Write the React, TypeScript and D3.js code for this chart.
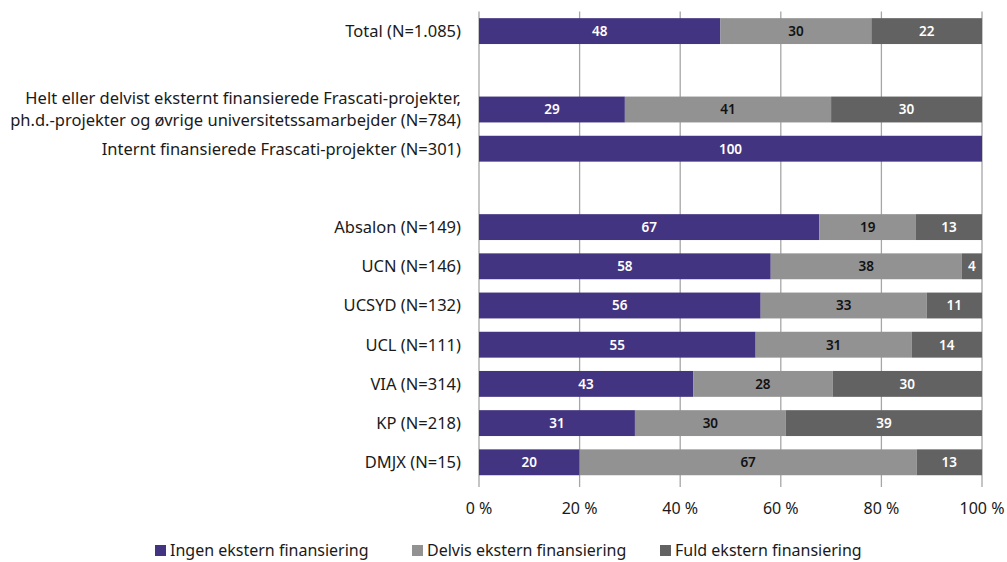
import React, { useRef, useEffect } from "react";
import * as d3 from "d3";

// rows, top to bottom (empty strings are spacer rows)
const categories = [
  "Total (N=1.085)",
  "",
  "Helt eller delvist eksternt finansierede Frascati-projekter,\nph.d.-projekter og øvrige universitetssamarbejder (N=784)",
  "Internt finansierede Frascati-projekter (N=301)",
  " ",
  "Absalon (N=149)",
  "UCN (N=146)",
  "UCSYD (N=132)",
  "UCL (N=111)",
  "VIA (N=314)",
  "KP (N=218)",
  "DMJX (N=15)",
];

const seriesNames = [
  "Ingen ekstern finansiering",
  "Delvis ekstern finansiering",
  "Fuld ekstern finansiering",
];

const ingen = [48, null, 29, 100, null, 67, 58, 56, 55, 43, 31, 20];
const delvis = [30, null, 41, 0, null, 19, 38, 33, 31, 28, 30, 67];
const fuld = [22, null, 30, 0, null, 13, 4, 11, 14, 30, 39, 13];

const xTicks = [0, 0.2, 0.4, 0.6, 0.8, 1];

const colors = ["#433481", "#929292", "#626262"];
const labelColors = ["#ffffff", "#111111", "#ffffff"];

const width = 1007;
const height = 562;
const margin = { top: 11.5, right: 25, bottom: 80, left: 479 };
const font = "'Noto Sans', sans-serif";

const App: React.FC = () => {
  const svgRef = useRef<SVGSVGElement | null>(null);

  useEffect(() => {
    if (!svgRef.current) return;
    const svg = d3.select(svgRef.current);
    svg.selectAll("*").remove();

    const rows = categories.map((c, i) => ({
      key: c,
      ingen: ingen[i],
      delvis: delvis[i],
      fuld: fuld[i],
    }));
    const dataRows = rows.filter((r) => r.ingen !== null);

    const x = d3
      .scaleLinear()
      .domain([0, 1])
      .range([margin.left, margin.left + 503]);

    const y = d3
      .scaleBand<string>()
      .domain(categories)
      .range([margin.top, margin.top + 12 * 39.2])
      .paddingInner(0.34)
      .paddingOuter(0.17);

    const stack = d3
      .stack<any>()
      .keys(["ingen", "delvis", "fuld"])
      .offset(d3.stackOffsetExpand);
    const stacked = stack(dataRows);

    const y0 = margin.top;
    const y1 = margin.top + 12 * 39.2;

    // grid
    svg
      .append("g")
      .selectAll("line")
      .data(xTicks)
      .join("line")
      .attr("x1", (d) => x(d))
      .attr("x2", (d) => x(d))
      .attr("y1", y0)
      .attr("y2", y1 + 5)
      .attr("stroke", "#a6a6a6")
      .attr("stroke-width", 1.3);

    // bars
    stacked.forEach((s, si) => {
      const g = svg.append("g");
      g.selectAll("rect")
        .data(s.filter((d) => d[1] - d[0] > 0))
        .join("rect")
        .attr("x", (d) => x(d[0]))
        .attr("width", (d) => x(d[1]) - x(d[0]))
        .attr("y", (d) => y(d.data.key)!)
        .attr("height", y.bandwidth())
        .attr("fill", colors[si]);
      g.selectAll("text")
        .data(s.filter((d) => d[1] - d[0] > 0))
        .join("text")
        .attr("x", (d) => (x(d[0]) + x(d[1])) / 2)
        .attr("y", (d) => y(d.data.key)! + y.bandwidth() / 2)
        .attr("dy", "0.36em")
        .attr("text-anchor", "middle")
        .attr("font-family", font)
        .attr("font-size", 13.5)
        .attr("font-weight", 600)
        .attr("fill", labelColors[si])
        .text((d) => d.data[s.key]);
    });

    // category labels
    const lab = svg
      .append("g")
      .selectAll("text")
      .data(categories.filter((c) => c.trim() !== ""))
      .join("text")
      .attr("text-anchor", "end")
      .attr("font-family", font)
      .attr("font-size", 16.5)
      .attr("fill", "#1a1a1a");
    lab.each(function (d) {
      const lines = d.split("\n");
      const cy = y(d)! + y.bandwidth() / 2;
      const t = d3.select(this);
      lines.forEach((l, i) => {
        t.append("tspan")
          .attr("x", margin.left - 18)
          .attr("y", cy + (i - (lines.length - 1) / 2) * 22)
          .attr("dy", "0.36em")
          .text(l);
      });
    });

    // x tick labels
    svg
      .append("g")
      .selectAll("text")
      .data(xTicks)
      .join("text")
      .attr("x", (d) => x(d))
      .attr("y", 508)
      .attr("dy", "0.36em")
      .attr("text-anchor", "middle")
      .attr("font-family", font)
      .attr("font-size", 16)
      .attr("fill", "#1a1a1a")
      .text((d) => `${Math.round(d * 100)} %`);

    // legend
    const legendX = [155, 412, 660];
    const lg = svg
      .append("g")
      .selectAll("g")
      .data(seriesNames)
      .join("g")
      .attr("transform", (_, i) => `translate(${legendX[i]},545)`);
    lg.append("rect")
      .attr("width", 11)
      .attr("height", 11)
      .attr("fill", (_, i) => colors[i]);
    lg.append("text")
      .attr("x", 15)
      .attr("y", 11)
      .attr("font-family", font)
      .attr("font-size", 16)
      .attr("fill", "#1a1a1a")
      .text((d) => d);
  }, []);

  return (
    <svg
      ref={svgRef}
      width={width}
      height={height}
      style={{ position: "absolute", left: 0, top: 0, background: "#fff" }}
    />
  );
};

export default App;
